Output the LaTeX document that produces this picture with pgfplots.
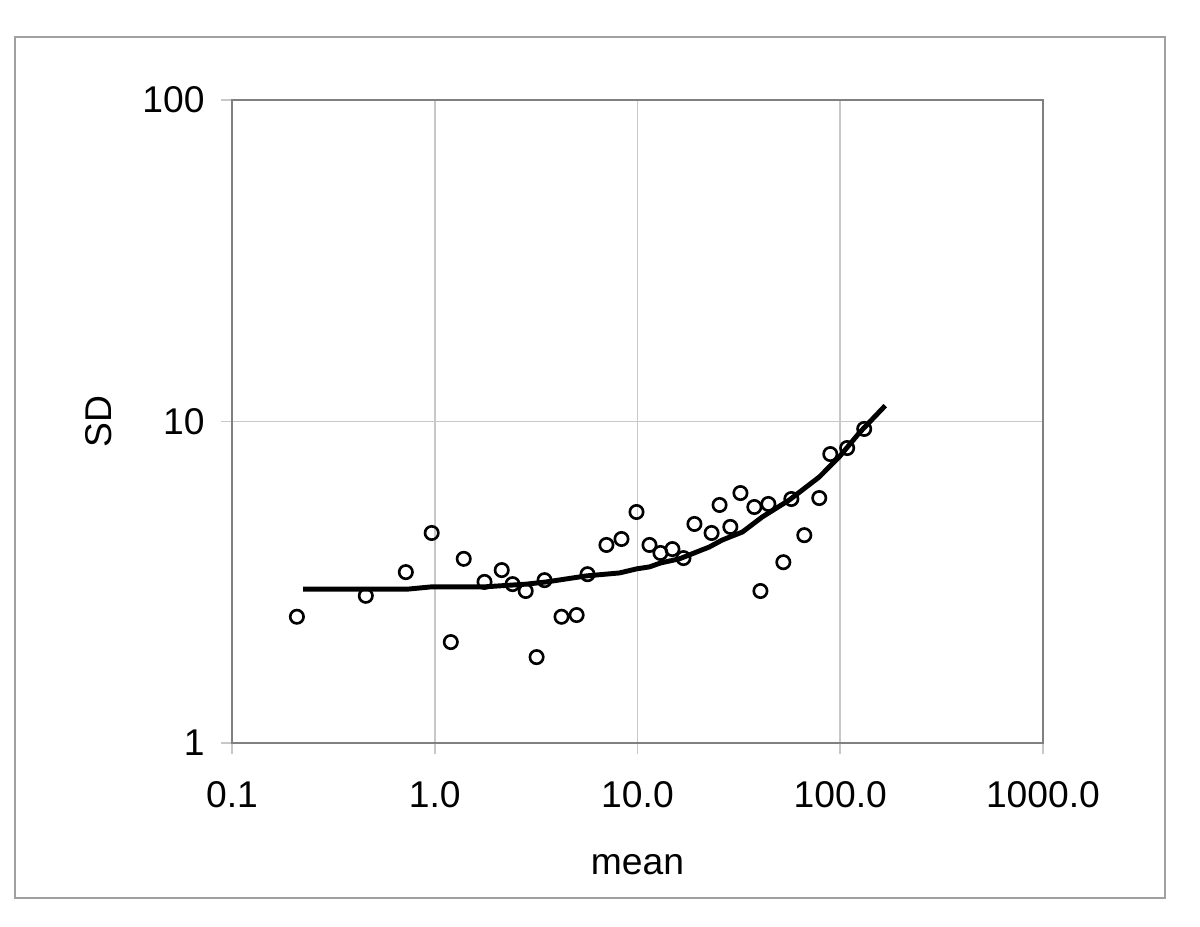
\documentclass[border=0pt]{standalone}
\usepackage{pgfplots}
\pgfplotsset{compat=1.18}
\usepackage{fontspec}
\setmainfont{Liberation Sans}
\definecolor{gridgray}{RGB}{200,200,200}
\definecolor{framegray}{RGB}{128,128,128}
\definecolor{outergray}{RGB}{160,160,160}
\begin{document}
\begin{tikzpicture}[x=1cm,y=1cm]
\fill[white] (0,0) rectangle (12,9.27);
\draw[outergray, line width=0.45pt] (0.15,0.29) rectangle (11.65,8.90);
\begin{axis}[
  at={(2.32cm,1.84cm)}, anchor=south west,
  width=8.11cm, height=6.43cm, scale only axis,
  xmode=log, ymode=log, log basis x=10, log basis y=10,
  xmin=0.1, xmax=1000, ymin=1, ymax=100,
  xtick={0.1,1,10,100,1000}, xticklabels={0.1,1.0,10.0,100.0,1000.0},
  ytick={1,10,100}, yticklabels={1,10,100},
  xminorticks=false, yminorticks=false,
  grid=major, major grid style={color=gridgray, line width=0.45pt},
  axis line style={framegray, line width=0.65pt},
  tick style={gridgray, line width=0.45pt},
  tick align=outside, major tick length=0.11cm,
  xtick pos=left, ytick pos=left,
  /pgf/number format/assume math mode=true,
  ticklabel style={font=\fontsize{10.6}{12}\selectfont, text=black},
  xticklabel style={yshift=-0.15cm},
  yticklabel style={xshift=-0.04cm},
  label style={font=\fontsize{10.6}{12}\selectfont},
  xlabel={mean}, ylabel={SD},
  xlabel style={at={(axis description cs:0.5,-0.19)}, anchor=center},
  ylabel style={at={(axis description cs:-0.164,0.5)}, anchor=center, rotate=0},
  clip=false,
]
\addplot[only marks, mark=o, mark size=1.9pt, mark options={line width=0.75pt, black}] coordinates {
(0.209,2.47) (0.457,2.87) (0.72,3.40) (0.966,4.50) (1.2,2.06) (1.39,3.74)
(1.76,3.17) (2.14,3.45) (2.42,3.12) (2.81,2.97) (3.18,1.85) (3.48,3.21)
(4.22,2.47) (5.01,2.50) (5.67,3.35) (7.03,4.13) (8.34,4.31) (9.89,5.23)
(11.46,4.13) (12.98,3.90) (14.87,4.01) (16.86,3.76) (19.1,4.80) (23.2,4.50)
(25.4,5.50) (28.7,4.70) (32.2,5.99) (37.7,5.42) (40.4,2.97) (44.2,5.54)
(52.4,3.65) (57.4,5.74) (66.5,4.43) (78.8,5.78) (89.3,7.92) (108.2,8.27)
(131.3,9.48)
};
\addplot[black, line width=1.4pt, mark=none, line join=round] coordinates {
(0.224,3.01) (0.736,3.01) (0.966,3.06) (1.76,3.06) (2.84,3.12) (3.56,3.17)
(5.61,3.31) (8.15,3.38) (9.89,3.48) (11.46,3.53) (12.98,3.63) (16.1,3.74)
(22.6,4.07) (26.2,4.28) (32.9,4.53) (41.3,5.05) (56.1,5.70) (78.8,6.72)
(98.9,7.76) (124,9.21) (166.7,11.2)
};
\end{axis}
\end{tikzpicture}
\end{document}
